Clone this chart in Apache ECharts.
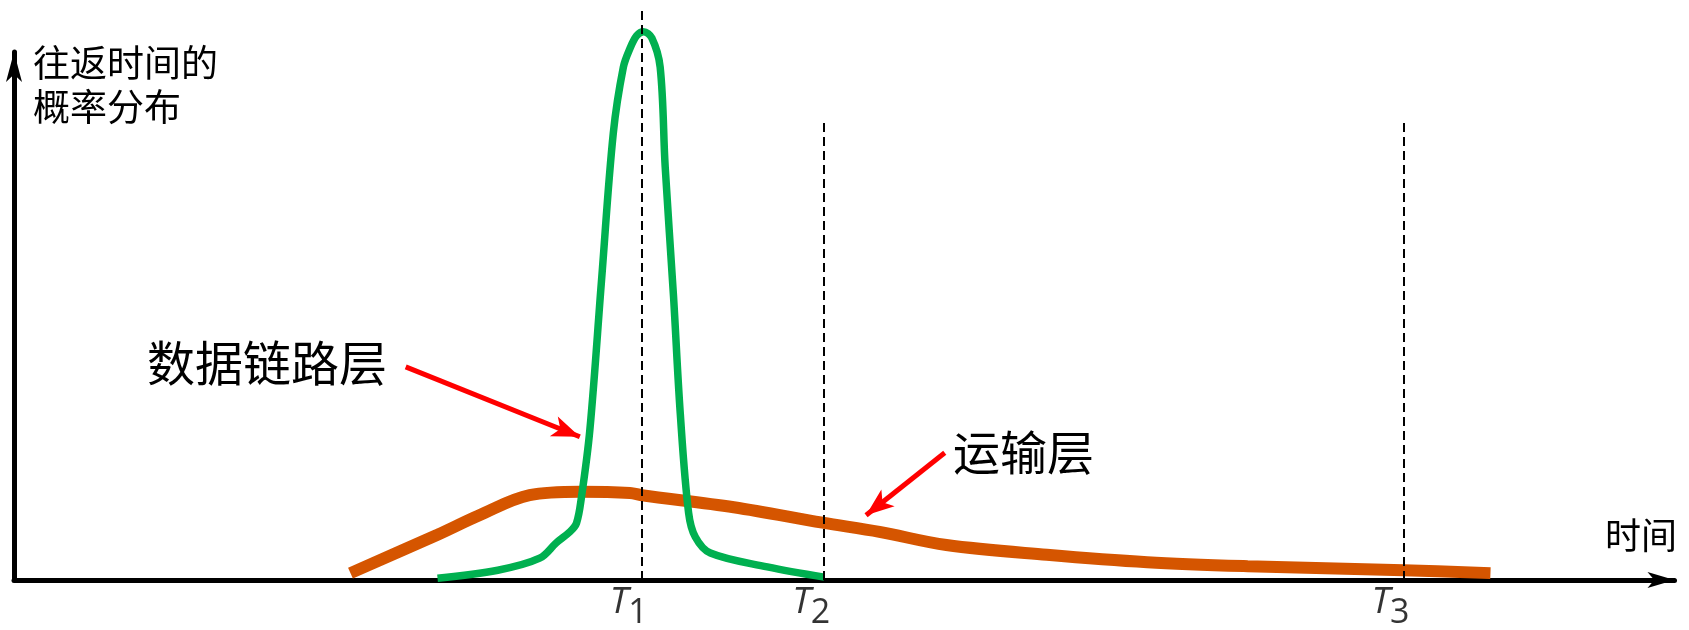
<!DOCTYPE html>
<html><head><meta charset="utf-8">
<script src="https://cdn.jsdelivr.net/npm/echarts@6/dist/echarts.min.js"></script>
<style>html,body{margin:0;padding:0;background:#fff}#c{width:1689px;height:630px}</style>
</head><body><div id="c"></div>
<script>
// time (0-100 along the axis) , probability density (0-100)
const dataLinkCurve = [
  [25.3,0.3],[28.9,1.7],[31.4,3.8],[32.4,6.5],[33.2,8.4],[33.6,9.9],[33.9,14.5],
  [34.4,26.2],[35.1,52.4],[35.8,78.0],[36.4,89.5],[36.8,92.8],[37.2,95.0],[37.6,95.7],[38.1,94.6],
  [38.6,89.5],[38.9,72.1],[39.4,49.4],[39.8,29.1],[40.3,11.7],[40.7,7.5],[41.6,4.7],
  [45.0,2.3],[48.4,0.5]
];
const transportCurve = [
  [20.1,1.2],[25.3,7.9],[27.8,11.3],[30.8,14.8],[33.8,15.4],[36.8,15.2],[37.5,14.8],
  [43.0,12.7],[48.3,10.0],[51.7,8.4],[55.7,6.1],[61.7,4.4],[67.7,3.1],[73.7,2.4],
  [83.0,1.7],[88.2,1.2]
];
const markerNames = ['1', '2', '3'];
const markerTimes = [37.5, 48.4, 83.0];
const markerTops = [100, 80, 80];
// annotation arrows: [fromTime, fromProb, toTime, toProb]
const arrows = [
  [23.4, 37.2, 33.8, 25.0],
  [55.6, 22.2, 50.9, 11.3]
];
const yAxisTitle = '往返时间的\n概率分布';
const xAxisTitle = '时间';
const dataLinkName = '数据链路层';
const transportName = '运输层';

const chart = echarts.init(document.getElementById('c'));
const cjk = '"Noto Sans CJK SC", "Noto Sans", sans-serif';
const axisStyle = {color: '#000', width: 5};

chart.setOption({
  animation: false,
  backgroundColor: '#fff',
  grid: [
    {left: 14, right: 1, top: 7, bottom: 50},
    {left: 14, right: 14.5, top: 52, bottom: 50}
  ],
  xAxis: [
    {gridIndex: 0, type: 'value', min: 0, max: 100, show: false},
    {gridIndex: 1, type: 'value', min: 0, max: 100,
      axisLine: {show: true, lineStyle: axisStyle, symbol: ['none', 'arrow'], symbolSize: [12, 27]},
      axisTick: {show: false}, axisLabel: {show: false}, splitLine: {show: false}}
  ],
  yAxis: [
    {gridIndex: 0, type: 'value', min: 0, max: 100, show: false},
    {gridIndex: 1, type: 'value', min: 0, max: 100,
      axisLine: {show: true, lineStyle: axisStyle, symbol: ['none', 'arrow'], symbolSize: [12, 30]},
      axisTick: {show: false}, axisLabel: {show: false}, splitLine: {show: false}}
  ],
  graphic: [
    {type: 'text', x: 33, y: 41, style: {text: yAxisTitle, fontSize: 37, lineHeight: 44, fontFamily: cjk, fill: '#000'}},
    {type: 'text', x: 1605, y: 535, style: {text: xAxisTitle, fontSize: 36, fontFamily: cjk, fill: '#000', verticalAlign: 'middle'}},
    {type: 'text', x: 147, y: 363, style: {text: dataLinkName, fontSize: 48, fontFamily: cjk, fill: '#000', verticalAlign: 'middle'}},
    {type: 'text', x: 953, y: 452, style: {text: transportName, fontSize: 47, fontFamily: cjk, fill: '#000', verticalAlign: 'middle'}}
  ],
  series: [
    {
      type: 'line', xAxisIndex: 0, yAxisIndex: 0, z: 2,
      data: transportCurve, smooth: 0.35, showSymbol: false,
      lineStyle: {color: '#D55500', width: 12, cap: 'butt'}
    },
    {
      type: 'line', xAxisIndex: 0, yAxisIndex: 0, z: 3,
      data: dataLinkCurve, smooth: 0.35, showSymbol: false,
      lineStyle: {color: '#00B050', width: 7.5, cap: 'butt'}
    },
    {
      type: 'scatter', xAxisIndex: 0, yAxisIndex: 0, z: 10,
      data: markerTimes.map(t => [t, 0]), symbolSize: 0, silent: true,
      label: {
        show: true, position: 'bottom', distance: 4, offset: [-13, 0],
        formatter: p => '{t|T}{s|' + markerNames[p.dataIndex] + '}',
        rich: {
          t: {fontSize: 37, fontStyle: 'italic', fontFamily: '"Open Sans", sans-serif', color: '#000', verticalAlign: 'top', lineHeight: 46},
          s: {fontSize: 34, fontFamily: '"Open Sans", sans-serif', color: '#000', verticalAlign: 'bottom', lineHeight: 46}
        }
      },
      markLine: {
        silent: true, symbol: ['none', 'none'], label: {show: false},
        lineStyle: {color: '#000', width: 2, type: [9, 5]},
        data: markerTimes.map((t, i) => [{coord: [t, 0]}, {coord: [t, markerTops[i]]}])
      }
    },
    {
      type: 'line', xAxisIndex: 0, yAxisIndex: 0, z: 11, data: [], showSymbol: false,
      markLine: {
        silent: true, symbol: ['none', 'arrow'], symbolSize: [16, 28], label: {show: false},
        lineStyle: {color: '#FF0000', width: 5, type: 'solid'},
        data: arrows.map(a => [{coord: [a[0], a[1]]}, {coord: [a[2], a[3]]}])
      }
    }
  ]
});
</script></body></html>
